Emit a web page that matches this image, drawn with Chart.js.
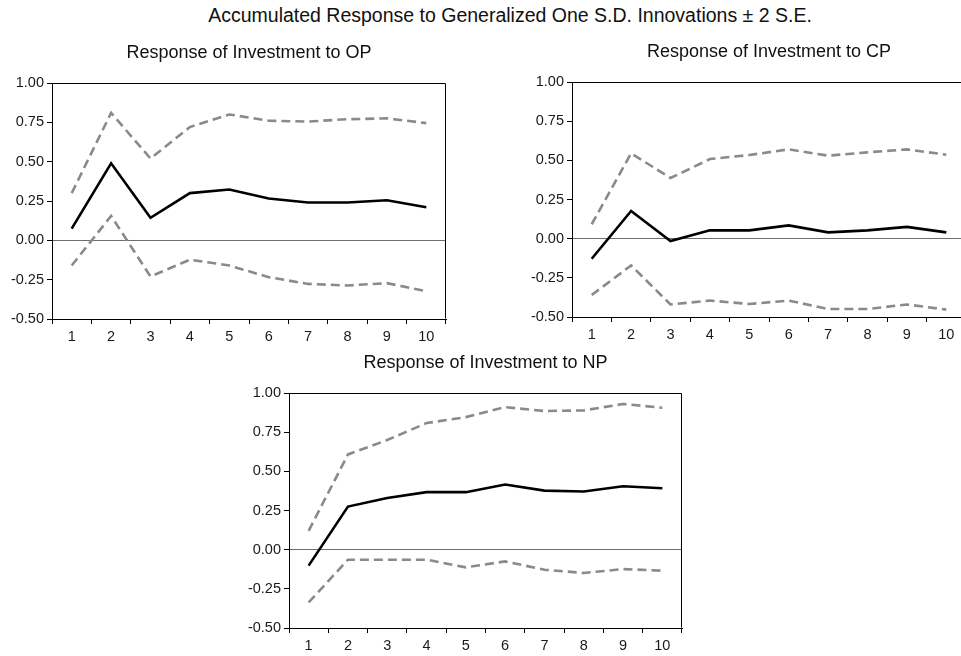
<!DOCTYPE html>
<html>
<head>
<meta charset="utf-8">
<script src="https://cdn.jsdelivr.net/npm/chart.js@4.4.1/dist/chart.umd.min.js"></script>
<style>
  html, body { margin: 0; padding: 0; background: #fff; }
  body { width: 961px; height: 656px; overflow: hidden; position: relative; }
  canvas { position: absolute; }
  #mainTitle { position: absolute; left: 0; width: 1020px; top: 4px; text-align: center;
    font-family: "Liberation Sans", Arial, sans-serif; font-size: 19.5px; line-height: 22px; color: #111; white-space: nowrap; }
</style>
</head>
<body>
<div id="mainTitle">Accumulated Response to Generalized One S.D. Innovations ± 2 S.E.</div>
<canvas id="c1" width="498" height="314" style="left:0px;top:35px"></canvas>
<canvas id="c2" width="498" height="313" style="left:520px;top:34px"></canvas>
<canvas id="c3" width="497" height="313" style="left:237px;top:345px"></canvas>
<script>
const categories = ['1', '2', '3', '4', '5', '6', '7', '8', '9', '10'];
const yTickValues = [-0.5, -0.25, 0, 0.25, 0.5, 0.75, 1.0];

const panelTitles = ['Response of Investment to OP', 'Response of Investment to CP', 'Response of Investment to NP'];

const opResponse = [0.074, 0.49, 0.143, 0.30, 0.323, 0.266, 0.24, 0.24, 0.255, 0.21];
const opUpper    = [0.30, 0.81, 0.52, 0.72, 0.80, 0.76, 0.755, 0.77, 0.775, 0.745];
const opLower    = [-0.16, 0.155, -0.23, -0.123, -0.16, -0.234, -0.277, -0.287, -0.272, -0.323];

const cpResponse = [-0.128, 0.177, -0.015, 0.053, 0.053, 0.085, 0.04, 0.053, 0.075, 0.04];
const cpUpper    = [0.092, 0.545, 0.387, 0.508, 0.534, 0.57, 0.53, 0.551, 0.57, 0.536];
const cpLower    = [-0.36, -0.171, -0.42, -0.395, -0.417, -0.395, -0.449, -0.449, -0.42, -0.453];

const npResponse = [-0.102, 0.275, 0.33, 0.367, 0.367, 0.416, 0.377, 0.371, 0.405, 0.392];
const npUpper    = [0.12, 0.608, 0.70, 0.808, 0.846, 0.91, 0.885, 0.889, 0.93, 0.906];
const npLower    = [-0.337, -0.064, -0.064, -0.064, -0.113, -0.075, -0.128, -0.149, -0.124, -0.134];

const FONT = '"Liberation Sans", Arial, sans-serif';

const framePlugin = {
  id: 'frame',
  afterDraw(chart) {
    const a = chart.chartArea, ctx = chart.ctx;
    ctx.save();
    ctx.strokeStyle = '#000';
    ctx.lineWidth = 1;
    const l = Math.round(a.left) + 0.5, t = Math.round(a.top) + 0.5;
    const r = Math.round(a.right) - 0.5, b = Math.round(a.bottom) - 0.5;
    ctx.beginPath();
    ctx.moveTo(l, t); ctx.lineTo(r, t); ctx.lineTo(r, b);
    ctx.stroke();
    ctx.restore();
  }
};

function makeChart(id, title, resp, up, lo) {
  const dashed = (data) => ({
    data, borderColor: '#8a8a8a', borderWidth: 2.6, borderDash: [9, 5],
    pointRadius: 0, tension: 0, fill: false
  });
  return new Chart(document.getElementById(id), {
    type: 'line',
    data: {
      labels: categories,
      datasets: [
        { data: resp, borderColor: '#000', borderWidth: 2.6, pointRadius: 0, tension: 0, fill: false },
        dashed(up),
        dashed(lo)
      ]
    },
    options: {
      responsive: false,
      animation: false,
      devicePixelRatio: 1,
      events: [],
      layout: { padding: 0 },
      plugins: {
        legend: { display: false },
        tooltip: { enabled: false },
        title: {
          display: true, text: title, color: '#111',
          font: { family: FONT, size: 18, weight: 'normal', lineHeight: 1.2 },
          padding: { top: 7, bottom: 19.4 }
        }
      },
      scales: {
        x: {
          type: 'category',
          offset: true,
          grid: { offset: true, drawOnChartArea: false, drawTicks: true, tickLength: 5, tickColor: '#000', color: '#000' },
          border: { display: true, color: '#000', width: 1 },
          ticks: { color: '#1a1a1a', font: { family: FONT, size: 14.5 }, padding: 4, maxRotation: 0, autoSkip: false },
          afterFit(scale) { scale.height = 30; }
        },
        y: {
          min: -0.5, max: 1.0,
          afterBuildTicks(scale) { scale.ticks = yTickValues.map(v => ({ value: v })); },
          grid: {
            drawOnChartArea: true, drawTicks: true, tickLength: 5, tickColor: '#000',
            color: (ctx) => (ctx.tick && ctx.tick.value === 0) ? '#6e6e6e' : 'rgba(0,0,0,0)',
            lineWidth: 1
          },
          border: { display: true, color: '#000', width: 1 },
          ticks: { color: '#1a1a1a', font: { family: FONT, size: 14.5 }, padding: 3,
                   callback: (v) => Number(v).toFixed(2) },
          afterFit(scale) { scale.width = 52; }
        },
        yRight: {
          position: 'right',
          min: -0.5, max: 1.0,
          display: true,
          grid: { display: false, drawTicks: false },
          border: { display: false },
          ticks: { display: false },
          afterFit(scale) { scale.width = 52; }
        }
      }
    },
    plugins: [framePlugin]
  });
}

makeChart('c1', panelTitles[0], opResponse, opUpper, opLower);
makeChart('c2', panelTitles[1], cpResponse, cpUpper, cpLower);
makeChart('c3', panelTitles[2], npResponse, npUpper, npLower);
</script>
</body>
</html>
